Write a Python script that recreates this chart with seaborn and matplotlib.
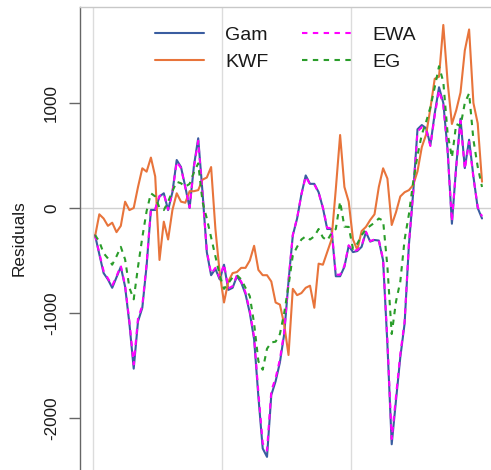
import numpy as np
import pandas as pd
import matplotlib
matplotlib.use("Agg")
import matplotlib.pyplot as plt
import seaborn as sns

# ---- data ----
t_index = list(range(91))

gam = [-257, -440, -620, -680, -760, -660, -560, -750, -1100, -1530,
       -1080, -950, -550, -19, -19, 110, 140, -20, 150, 457,
       390, 200, 0, 400, 664, 150, -420, -640, -580, -680,
       -540, -780, -760, -650, -710, -820, -1000, -1250, -1800, -2290,
       -2370, -1780, -1650, -1470, -1200, -700, -260, -100, 130, 310,
       230, 230, 150, 0, -200, -200, -650, -650, -560, -360,
       -420, -410, -370, -230, -320, -305, -310, -500, -1300, -2250,
       -1830, -1420, -1100, -350, 150, 750, 790, 760, 600, 900,
       1150, 1000, 550, -150, 400, 850, 380, 650, 300, 0,
       -100]

kwf = [-273, -60, -100, -170, -140, -230, -170, 60, -20, 0,
       200, 378, 346, 480, 300, -495, -130, -300, -20, 140,
       60, 50, 160, 160, 170, 270, 290, 390, -200, -620,
       -900, -700, -620, -610, -570, -570, -500, -360, -590, -640,
       -640, -700, -900, -920, -1110, -1400, -770, -830, -810, -760,
       -740, -950, -530, -540, -420, -300, 180, 695, 200, 60,
       -300, -400, -220, -180, -114, -60, 200, 378, 280, -162,
       -40, 110, 150, 170, 219, 350, 580, 700, 950, 1230,
       1250, 1743, 1200, 800, 930, 1100, 1500, 1700, 1000, 806,
       250]

ewa = [-257, -430, -600, -670, -740, -650, -550, -740, -1080, -1490,
       -1050, -930, -530, -10, -10, 115, 135, -15, 150, 440,
       380, 195, 5, 390, 640, 140, -410, -625, -570, -665,
       -535, -765, -745, -640, -700, -805, -980, -1230, -1760, -2240,
       -2310, -1740, -1620, -1440, -1180, -690, -255, -95, 130, 300,
       225, 225, 145, 5, -190, -190, -635, -635, -550, -355,
       -410, -400, -360, -225, -315, -300, -305, -490, -1270, -2200,
       -1790, -1390, -1080, -340, 150, 730, 770, 745, 590, 880,
       1120, 980, 540, -130, 390, 830, 370, 630, 290, 10,
       -80]

eg = [-257, -320, -430, -480, -540, -460, -370, -490, -760, -870,
      -560, -280, -30, 140, 110, 0, -20, 60, 160, 250,
      235, 203, 230, 340, 425, 60, -100, -280, -460, -640,
      -770, -717, -660, -640, -680, -760, -840, -1100, -1460, -1540,
      -1340, -1280, -1273, -1200, -1000, -740, -450, -370, -300, -270,
      -300, -270, -200, -280, -310, -240, -200, 60, -178, -180,
      -390, -340, -260, -200, -170, -140, -100, -120, -560, -1200,
      -890, -700, -300, -60, 250, 500, 700, 820, 960, 1150,
      1350, 1200, 711, 480, 800, 780, 1000, 1092, 650, 393,
      200]

series_names = ["Gam", "KWF", "EWA", "EG"]
y_ticks = [-2000, -1000, 0, 1000]
x_grid = [-0.5, 29.5, 59.5]

# ---- styling ----
colors = {"Gam": "#3A5DA0", "KWF": "#E8743B", "EWA": "#FF00FF", "EG": "#2A9D2A"}
styles = {"Gam": "-", "KWF": "-", "EWA": (0, (2.6, 2.6)), "EG": (0, (2.6, 2.6))}

sns.set_style("white")
plt.rcParams["font.family"] = ["Liberation Sans", "DejaVu Sans"]

fig = plt.figure(figsize=(4.91, 4.70), dpi=100)
ax = fig.add_axes([80 / 491, 0.0, 411 / 491, 463 / 470])

for xg in x_grid:
    ax.axvline(xg, color="#dcdcdc", lw=1.0, zorder=0)
ax.axhline(0, color="#d0d0d0", lw=1.0, zorder=0)

values = {"Gam": gam, "KWF": kwf, "EWA": ewa, "EG": eg}
for name in series_names:
    df = pd.DataFrame({"t": t_index, "res": values[name]})
    sns.lineplot(data=df, x="t", y="res", ax=ax, color=colors[name],
                 linestyle=styles[name], lw=1.5, label=name, zorder=2)

ax.set_xlim(-3.49, 92.09)
ax.set_ylim(-2495, 1914)
ax.set_xticks([])
ax.set_yticks(y_ticks)
ax.set_yticklabels([str(v) for v in y_ticks])
ax.tick_params(axis="y", length=8, width=1, color="#666666", labelsize=12.3,
               labelrotation=90, pad=7, labelcolor="#1a1a1a", left=True)
for lab in ax.get_yticklabels():
    lab.set_va("center")

ax.set_xlabel("")
ax.set_ylabel("Residuals", fontsize=12.3, color="#1a1a1a")
ax.yaxis.set_label_coords(-0.13, 0.5)

ax.spines["left"].set_color("#666666")
ax.spines["left"].set_linewidth(1.0)
ax.spines["top"].set_color("#c8c8c8")
ax.spines["top"].set_linewidth(1.0)
ax.spines["right"].set_visible(False)
ax.spines["bottom"].set_visible(False)

handles, labels = ax.get_legend_handles_labels()
leg = ax.legend(handles, labels, ncol=2, frameon=False, fontsize=14,
                loc="upper left", bbox_to_anchor=(155 / 491, 444 / 470),
                bbox_transform=fig.transFigure, handlelength=2.5,
                handletextpad=1.1, columnspacing=1.75, labelspacing=0.5,
                borderpad=0.0, borderaxespad=0.0)
for txt in leg.get_texts():
    txt.set_color("#1a1a1a")

fig.savefig("out.png", dpi=100)
